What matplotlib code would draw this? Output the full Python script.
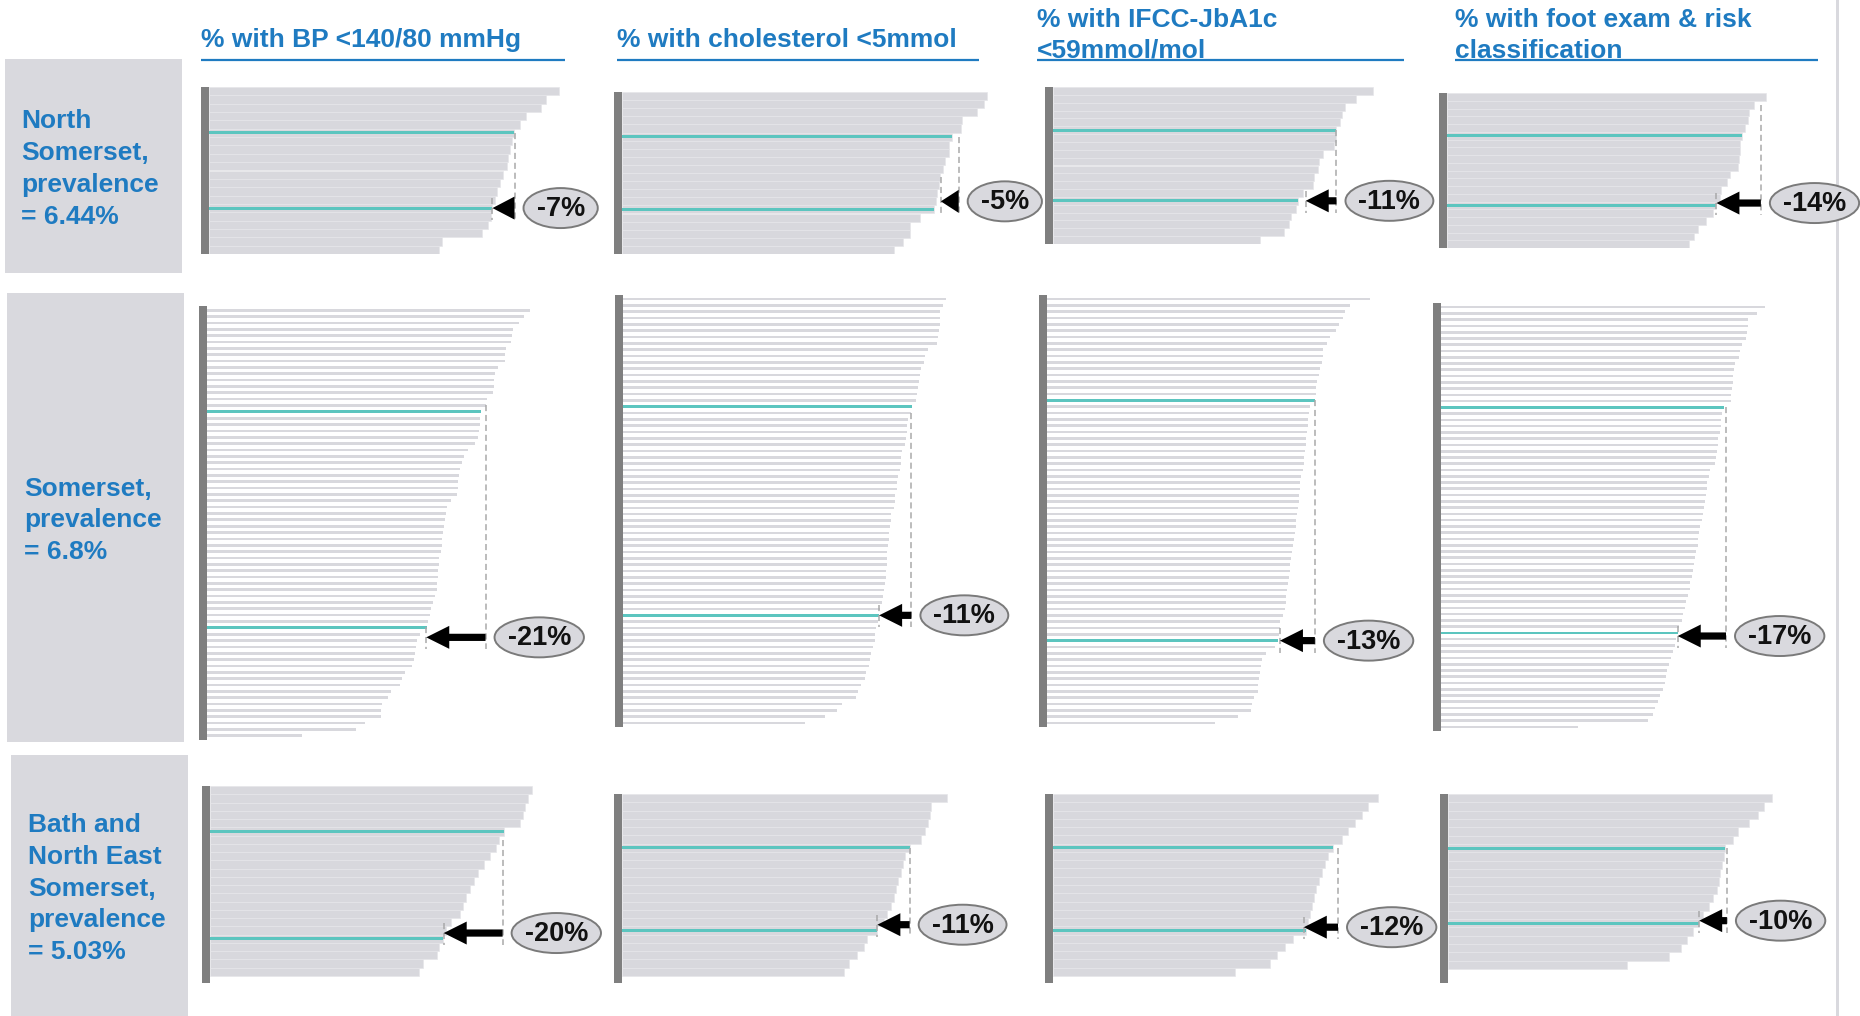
import matplotlib
matplotlib.use("Agg")
import matplotlib.pyplot as plt
from matplotlib.patches import Rectangle, Ellipse, Polygon

plt.rcParams['font.family'] = ['Liberation Sans', 'DejaVu Sans']

# ---------------------------------------------------------------- data
regions = [
    "North\nSomerset,\nprevalence\n= 6.44%",
    "Somerset,\nprevalence\n= 6.8%",
    "Bath and\nNorth East\nSomerset,\nprevalence\n= 5.03%",
]
indicators = [
    "% with BP <140/80 mmHg",
    "% with cholesterol <5mmol",
    "% with IFCC-JbA1c\n<59mmol/mol",
    "% with foot exam & risk\nclassification",
]

# practice achievement (%), sorted high to low
ns_bp = [92.0, 88.8, 87.3, 83.5, 81.9, 80.2, 79.8, 79.3, 78.7, 78.4,
         77.4, 76.7, 75.8, 75.2, 74.6, 74.3, 73.4, 71.8, 61.3, 60.4]
ns_chol = [96.1, 95.2, 93.4, 89.5, 89.3, 86.8, 86.1, 86.0, 85.1, 84.5,
           83.8, 83.3, 82.9, 82.7, 82.0, 78.5, 75.9, 75.7, 73.9, 71.7]
ns_hba1c = [84.2, 79.8, 76.9, 76.1, 75.6, 74.6, 74.4, 73.9, 71.1, 69.9,
            69.7, 68.7, 68.4, 65.8, 64.6, 63.9, 62.7, 62.1, 60.7, 54.4]
ns_foot = [84.0, 80.8, 79.6, 79.2, 78.3, 77.5, 77.2, 77.0, 76.8, 76.6,
           74.4, 73.7, 72.2, 71.8, 70.9, 70.1, 68.2, 66.0, 64.9, 63.6]

som_bp = [84.9, 83.3, 82.1, 80.4, 80.2, 80.1, 78.6, 78.4, 78.3, 76.6,
          75.7, 75.5, 75.4, 75.3, 73.8, 73.3, 72.0, 71.9, 71.8, 71.6,
          71.4, 70.6, 68.7, 67.5, 67.2, 66.5, 66.3, 66.1, 66.0, 65.8,
          64.3, 63.2, 63.0, 62.5, 62.3, 62.1, 61.9, 61.8, 61.5, 61.1,
          61.0, 60.9, 60.8, 60.5, 60.4, 60.1, 59.6, 59.0, 58.8, 58.2,
          57.9, 56.0, 55.3, 55.1, 54.8, 54.4, 54.0, 52.0, 51.4, 50.9,
          48.5, 47.6, 46.1, 45.9, 45.7, 41.5, 39.3, 25.1]
som_chol = [85.1, 84.2, 83.5, 83.4, 83.3, 83.1, 82.9, 82.5, 80.3, 79.4,
            79.2, 78.5, 78.2, 77.9, 77.7, 77.4, 77.0, 76.1, 75.9, 75.0,
            74.8, 74.7, 74.4, 74.1, 73.4, 73.2, 73.1, 73.0, 72.4, 72.2,
            72.1, 71.7, 71.5, 71.3, 70.6, 70.4, 70.2, 70.0, 69.9, 69.7,
            69.6, 69.5, 69.4, 69.3, 69.1, 68.9, 68.6, 68.4, 68.2, 67.7,
            67.4, 67.1, 66.7, 66.4, 66.2, 65.8, 65.2, 64.9, 64.7, 64.0,
            63.6, 62.7, 61.8, 61.2, 57.5, 56.4, 53.1, 47.8]
som_hba1c = [85.1, 79.8, 78.3, 77.9, 76.8, 76.1, 74.4, 73.8, 72.6, 72.5,
             72.4, 71.9, 71.6, 71.1, 70.9, 70.7, 70.5, 69.1, 68.9, 68.8,
             68.7, 68.5, 68.2, 68.1, 67.9, 67.7, 67.5, 67.4, 66.9, 66.7,
             66.5, 66.4, 66.3, 66.1, 65.8, 65.6, 65.4, 65.2, 65.0, 64.7,
             64.6, 64.3, 64.0, 63.9, 63.7, 63.4, 63.2, 63.0, 62.8, 62.5,
             62.1, 61.4, 61.2, 61.1, 60.8, 59.9, 57.7, 56.6, 56.2, 56.0,
             55.8, 55.5, 55.4, 54.6, 54.0, 53.8, 50.3, 44.3]
som_foot = [85.3, 83.2, 80.9, 80.7, 80.4, 80.3, 79.1, 78.7, 78.4, 77.4,
            77.1, 76.9, 76.8, 76.6, 76.4, 76.2, 74.5, 73.9, 73.7, 73.6,
            73.4, 73.0, 72.8, 72.5, 72.3, 72.1, 70.8, 70.4, 70.1, 69.9,
            69.7, 69.6, 69.3, 69.0, 68.6, 68.2, 67.9, 67.7, 67.5, 67.1,
            66.8, 66.6, 66.2, 66.0, 65.5, 65.4, 65.1, 64.6, 64.2, 63.8,
            63.3, 62.7, 62.3, 61.8, 61.6, 61.1, 60.4, 60.1, 59.6, 59.2,
            58.9, 58.3, 57.6, 57.0, 56.3, 55.9, 54.4, 36.1]

banes_bp = [84.7, 83.7, 82.9, 82.4, 81.6, 77.4, 76.1, 75.3, 73.7, 72.1,
            70.5, 69.5, 68.4, 67.4, 66.6, 65.8, 63.4, 62.1, 61.3, 60.3,
            59.7, 56.1, 55.0]
banes_chol = [85.6, 81.3, 81.1, 80.5, 79.7, 78.8, 75.7, 74.6, 73.9, 73.3,
              72.6, 72.1, 71.6, 70.8, 69.7, 68.9, 67.2, 64.5, 63.7, 61.8,
              59.7, 58.3]
banes_hba1c = [85.5, 82.9, 81.3, 79.5, 77.6, 76.1, 73.7, 72.4, 71.6, 70.8,
               70.0, 69.2, 68.7, 68.2, 67.6, 67.1, 66.6, 63.2, 61.1, 58.9,
               57.1, 47.9]
banes_foot = [85.3, 83.2, 81.5, 79.3, 76.2, 75.1, 73.0, 72.6, 72.1, 71.7,
              71.3, 70.9, 69.7, 68.8, 67.1, 66.0, 64.6, 62.8, 61.4, 58.2,
              47.2]

# highlighted practices (row index): upper and lower quartile practice
ns_quartile_rows = [(5, 14), (5, 14), (5, 14), (5, 14)]
som_quartile_rows = [(16, 50), (17, 50), (16, 54), (16, 52)]
banes_quartile_rows = [(5, 18), (6, 16), (6, 16), (6, 15)]

# upper and lower quartile values (%)
ns_upper = [80.4, 88.6, 74.6, 82.6]
ns_lower = [74.6, 83.9, 66.5, 70.9]
som_upper = [73.3, 75.9, 70.5, 75.0]
som_lower = [57.7, 67.4, 61.3, 62.3]
banes_upper = [77.0, 75.7, 75.0, 73.4]
banes_lower = [61.5, 67.2, 66.0, 66.1]

# relative gap between quartiles
ns_gap = ["-7%", "-5%", "-11%", "-14%"]
som_gap = ["-21%", "-11%", "-13%", "-17%"]
banes_gap = ["-20%", "-11%", "-12%", "-10%"]

# ---------------------------------------------------------------- style
W, H = 1860, 1016
BLUE = "#1f7bc1"
BOX = "#d9d9de"
BAR = "#d8d8dd"
SEP = "#e6e6ea"
TEAL = "#5cc5bf"
AXIS = "#7f7f7f"
PX_PER_PCT = 3.8

fig = plt.figure(figsize=(W / 100, H / 100), dpi=100)
fig.patch.set_facecolor("white")

ov = fig.add_axes([0, 0, 1, 1], zorder=5)
ov.set_xlim(0, W)
ov.set_ylim(H, 0)
ov.axis("off")
ov.patch.set_alpha(0)

# right-hand divider
ov.add_patch(Rectangle((1836, 0), 3, H, color=BOX, lw=0))

# region boxes and labels
region_boxes = [(5, 59, 177, 214, 21), (7, 293, 177, 449, 24), (11, 755, 177, 261, 28)]
for text, (bx, by, bw, bh, tx) in zip(regions, region_boxes):
    ov.add_patch(Rectangle((bx, by), bw, bh, color=BOX, lw=0))
    ov.text(tx, by + bh / 2 + 3, text, color=BLUE, fontsize=19, fontweight="bold",
            ha="left", va="center", linespacing=1.42)

# indicator headings with underline
heading_pos = [(201, 565), (617, 979), (1037, 1404), (1455, 1818)]
for text, (x1, x2) in zip(indicators, heading_pos):
    lines = text.split("\n")
    base = [47] if len(lines) == 1 else [27, 58]
    for ln, yb in zip(lines, base):
        ov.text(x1, yb, ln, color=BLUE, fontsize=19, fontweight="bold",
                ha="left", va="baseline")
    ov.plot([x1, x2], [60, 60], color=BLUE, lw=1.6, solid_capstyle="butt")

# ---------------------------------------------------------------- panels
values = [
    [ns_bp, ns_chol, ns_hba1c, ns_foot],
    [som_bp, som_chol, som_hba1c, som_foot],
    [banes_bp, banes_chol, banes_hba1c, banes_foot],
]
quartile_rows = [ns_quartile_rows, som_quartile_rows, banes_quartile_rows]
uppers = [ns_upper, som_upper, banes_upper]
lowers = [ns_lower, som_lower, banes_lower]
gaps = [ns_gap, som_gap, banes_gap]

# (axis x, axis top, axis bottom, bars top, bars bottom) in pixels
frames = [
    [(209, 87, 254, 87, 254), (622, 92, 254, 92, 254),
     (1053, 87, 244, 87, 244), (1447, 93, 248, 93, 248)],
    [(207, 306, 740, 307, 739), (623, 295, 727, 296, 726),
     (1047, 295, 727, 296, 726), (1441, 303, 731, 304, 730)],
    [(210, 786, 983, 786, 976), (622, 794, 983, 794, 976),
     (1053, 794, 983, 794, 976), (1448, 794, 983, 794, 969)],
]
solid_rows = [True, False, True]
teal_fill = [0.36, 0.42, 0.36]
arrow_rows = [
    [14, 13, 14, 13.7],
    [51.5, 50, 54, 52.5],
    [17.3, 15.3, 15.6, 14.7],
]

renderer = fig.canvas.get_renderer()


def to_px(ax, x, y):
    d = ax.transData.transform((x, y))
    return ov.transData.inverted().transform(d)


for r in range(3):
    for c in range(4):
        vals = values[r][c]
        n = len(vals)
        x0, yt, yb, bt, bb = frames[r][c]
        pitch = (bb - bt) / n
        ax = fig.add_axes([x0 / W, 1 - yb / H, 100 * PX_PER_PCT / W, (yb - yt) / H])
        ax.set_xlim(0, 100)
        ax.set_ylim((yb - bt) / pitch - 0.5, (yt - bt) / pitch - 0.5)
        ax.axis("off")
        rows = list(range(n))
        if solid_rows[r]:
            ax.barh(rows, vals, height=1.0, color=BAR, edgecolor=SEP, lw=0.5)
        else:
            ax.barh(rows, vals, height=0.42, color=BAR, lw=0)
        t1, t2 = quartile_rows[r][c]
        ax.barh([t1, t2], [vals[t1], vals[t2]], height=teal_fill[r], color=TEAL, lw=0)

        # axis bar
        ov.add_patch(Rectangle((x0 - 8, yt), 8, yb - yt, color=AXIS, lw=0))

        up, lo = uppers[r][c], lowers[r][c]
        ar = arrow_rows[r][c]
        xu, ya = to_px(ax, up, ar)
        xl, _ = to_px(ax, lo, ar)
        start_u = next(i for i, v in enumerate(vals) if v <= up)
        start_l = next(i for i, v in enumerate(vals) if v <= lo)
        _, ysu = to_px(ax, up, start_u)
        _, ysl = to_px(ax, lo, start_l)
        yend = ya + 12
        ov.plot([xu, xu], [ysu, yend], color="#a9a9a9", lw=1.1, ls=(0, (4, 2.5)))
        ov.plot([xl, xl], [min(ysl, ya - 10), yend], color="#a9a9a9", lw=1.1, ls=(0, (4, 2.5)))

        # arrow from upper quartile to lower quartile
        L = xu - xl
        hl = min(23, L)
        sw, hw = 3.6, 11.5
        pts = [(xu, ya - sw), (xl + hl, ya - sw), (xl + hl, ya - hw), (xl, ya),
               (xl + hl, ya + hw), (xl + hl, ya + sw), (xu, ya + sw)]
        ov.add_patch(Polygon(pts, closed=True, color="black", lw=0, zorder=6))

        # gap label in an ellipse
        t = ov.text(0, ya, gaps[r][c], fontsize=19.5, fontweight="bold",
                    color="#111111", ha="center", va="center", zorder=8)
        tw = t.get_window_extent(renderer).width
        ew, eh = tw + 26, 40
        cx = xu + 9 + ew / 2
        t.set_position((cx, ya + 1))
        ov.add_patch(Ellipse((cx, ya), ew, eh, facecolor=BOX, edgecolor="#7a7a7a",
                             lw=1.4, zorder=7))

fig.savefig("out.png", dpi=100, facecolor="white")
